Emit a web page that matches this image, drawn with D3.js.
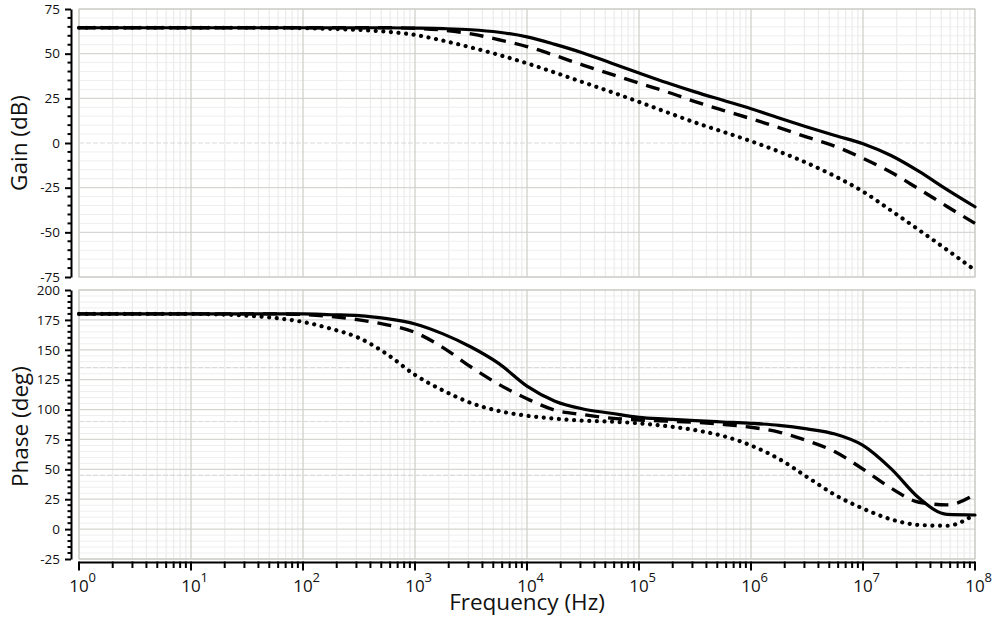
<!DOCTYPE html>
<html>
<head>
<meta charset="utf-8">
<script src="https://cdn.jsdelivr.net/npm/d3@7"></script>
<style>
  body { margin: 0; background: #fff; }
  svg { display: block; font-family: "Open Sans", "DejaVu Sans", sans-serif; }
</style>
</head>
<body>
<svg id="chart" width="993" height="618"></svg>
<script>
// Frequency grid as decimal exponents (Hz = 10^exp)
const freqExp = [0, 0.25, 0.5, 0.75, 1, 1.25, 1.5, 1.75, 2, 2.25, 2.5, 2.75, 3, 3.25, 3.5, 3.75,
                 4, 4.25, 4.5, 4.75, 5, 5.25, 5.5, 5.75, 6, 6.25, 6.5, 6.75, 7, 7.25, 7.5, 7.75, 8];

// Gain (dB)
const gainSolid  = [64.5, 64.5, 64.5, 64.5, 64.5, 64.5, 64.5, 64.5, 64.5, 64.5, 64.5, 64.5, 64.3, 64.0, 63.4, 62.0,
                    59.4, 55.2, 50.4, 44.8, 39.2, 33.7, 28.6, 23.9, 19.2, 14.0, 9.0, 4.2, -0.4, -7.0, -15.9, -26.1, -35.7];
const gainDashed = [64.5, 64.5, 64.5, 64.5, 64.5, 64.5, 64.5, 64.5, 64.5, 64.5, 64.5, 64.5, 64.2, 63.2, 61.1, 57.8,
                    54.0, 49.0, 43.6, 38.6, 33.5, 28.6, 23.2, 18.3, 13.6, 8.6, 3.3, -1.8, -8.6, -16.4, -25.8, -35.5, -45.0];
const gainDotted = [64.5, 64.5, 64.5, 64.5, 64.5, 64.5, 64.5, 64.5, 64.3, 63.9, 63.3, 62.3, 60.5, 57.3, 53.5, 49.3,
                    44.6, 39.4, 34.0, 28.6, 23.0, 17.2, 11.5, 6.3, 1.0, -4.8, -11.2, -18.6, -27.2, -37.8, -48.7, -59.8, -71.2];

// Phase (deg)
const phaseSolid  = [180, 180, 180, 180, 180, 180, 180, 180, 180, 179.3, 178.6, 176.0, 171.6, 163.3, 152.3, 138.4,
                     119.6, 107.0, 100.5, 96.9, 93.4, 92.0, 90.7, 89.6, 88.5, 86.8, 83.8, 79.5, 70.0, 50.6, 26.0, 12.3, 11.8];
const phaseDashed = [180, 180, 180, 180, 180, 180, 180, 180, 179.5, 177.8, 175.0, 170.9, 164.5, 151.8, 135.6, 121.0,
                     109.0, 99.5, 95.8, 92.8, 91.3, 90.3, 89.3, 87.6, 85.2, 81.2, 74.0, 64.7, 50.2, 34.3, 22.5, 20.3, 29.1];
const phaseDotted = [180, 180, 180, 180, 180, 179.6, 178.6, 176.6, 173.3, 167.6, 159.9, 146.3, 129.0, 116.0, 105.5, 98.8,
                     94.8, 92.4, 90.7, 89.9, 88.5, 86.1, 82.8, 77.9, 70.0, 58.7, 43.6, 28.6, 17.2, 8.2, 3.5, 2.8, 12.4];

// Axis ticks
const gainTicks  = [-75, -50, -25, 0, 25, 50, 75];
const phaseTicks = [-25, 0, 25, 50, 75, 100, 125, 150, 175, 200];
const decadeExps = [0, 1, 2, 3, 4, 5, 6, 7, 8];

const svg = d3.select("#chart");
const plotL = 79, plotR = 975;

const x = d3.scaleLog().domain([1, 1e8]).range([plotL, plotR]);
const yG = d3.scaleLinear().domain([-75, 75]).range([277, 9]);
const yP = d3.scaleLinear().domain([-25, 200]).range([559, 290]);

const freqs = freqExp.map(e => Math.pow(10, e));
const minorFreqs = [];
for (let d = 0; d < 8; d++) for (let m = 2; m <= 9; m++) minorFreqs.push(m * Math.pow(10, d));
const decadeFreqs = decadeExps.map(e => Math.pow(10, e));

function panel(yScale, majorTicks, dashedRefs, series) {
  const g = svg.append("g");
  const [y0, y1] = yScale.domain();
  const top = yScale(y1), bot = yScale(y0);

  g.append("rect").attr("x", plotL).attr("y", top).attr("width", plotR - plotL).attr("height", bot - top)
    .attr("fill", "#fff");

  // minor grid
  const minorY = d3.range(y0, y1 + 0.001, 5).filter(v => !majorTicks.includes(v));
  g.selectAll(null).data(minorY).join("line")
    .attr("x1", plotL).attr("x2", plotR).attr("y1", d => yScale(d)).attr("y2", d => yScale(d))
    .attr("stroke", "#eeeeee").attr("stroke-width", 1);
  g.selectAll(null).data(minorFreqs).join("line")
    .attr("x1", d => x(d)).attr("x2", d => x(d)).attr("y1", top).attr("y2", bot)
    .attr("stroke", "#ebebeb").attr("stroke-width", 1.2);

  // major grid
  g.selectAll(null).data(majorTicks.filter(v => !dashedRefs.includes(v))).join("line")
    .attr("x1", plotL).attr("x2", plotR).attr("y1", d => yScale(d)).attr("y2", d => yScale(d))
    .attr("stroke", "#d6d6d2").attr("stroke-width", 1.3);
  g.selectAll(null).data(decadeFreqs).join("line")
    .attr("x1", d => x(d)).attr("x2", d => x(d)).attr("y1", top).attr("y2", bot)
    .attr("stroke", "#cfcfcb").attr("stroke-width", 1.3);

  // reference lines
  g.selectAll(null).data(dashedRefs).join("line")
    .attr("x1", plotL).attr("x2", plotR).attr("y1", d => yScale(d)).attr("y2", d => yScale(d))
    .attr("stroke", "#dadada").attr("stroke-width", 1.2).attr("stroke-dasharray", "5,2");

  g.append("rect").attr("x", plotL).attr("y", top).attr("width", plotR - plotL).attr("height", bot - top)
    .attr("fill", "none").attr("stroke", "#cfcfcb").attr("stroke-width", 1.2);

  // curves
  const line = d3.line().x((d, i) => x(freqs[i])).y(d => yScale(d)).curve(d3.curveMonotoneX);
  const styles = [
    { w: 4.2, dash: "0.01,7.6", cap: "round" },
    { w: 3.4, dash: "14,9", cap: "butt" },
    { w: 3.2, dash: null, cap: "round" }
  ];
  series.forEach((vals, k) => {
    const s = styles[k];
    g.append("path").attr("d", line(vals)).attr("fill", "none").attr("stroke", "#000")
      .attr("stroke-width", s.w).attr("stroke-linecap", s.cap).attr("stroke-linejoin", "round")
      .attr("stroke-dasharray", s.dash);
  });

  // left axis
  const axisX = 71;
  const ax = svg.append("g").attr("transform", `translate(${axisX},0)`);
  ax.call(d3.axisLeft(yScale).tickValues(majorTicks).tickSize(6).tickSizeOuter(0).tickPadding(5)
    .tickFormat(d => String(d)));
  ax.select(".domain").attr("stroke-width", 2);
  ax.selectAll(".tick line").attr("stroke-width", 2);
  ax.selectAll(".tick text").attr("font-size", 13.5).attr("font-family", "Open Sans").attr("fill", "#111");
  const minorTickVals = d3.range(y0, y1 + 0.001, 5).filter(v => !majorTicks.includes(v));
  ax.selectAll(".minor").data(minorTickVals).join("line").attr("class", "minor")
    .attr("x1", -3.5).attr("x2", 0).attr("y1", d => yScale(d)).attr("y2", d => yScale(d))
    .attr("stroke", "#000").attr("stroke-width", 2);
}

panel(yG, gainTicks, [0], [gainDotted, gainDashed, gainSolid]);
panel(yP, phaseTicks, [45, 90, 135], [phaseDotted, phaseDashed, phaseSolid]);

// frequency axis
const axisY = 562.5;
const bx = svg.append("g").attr("transform", `translate(0,${axisY})`);
bx.append("line").attr("x1", plotL).attr("x2", plotR).attr("stroke", "#000").attr("stroke-width", 2);
bx.selectAll(".maj").data(decadeFreqs).join("line").attr("class", "maj")
  .attr("x1", d => x(d)).attr("x2", d => x(d)).attr("y1", -1).attr("y2", 8)
  .attr("stroke", "#000").attr("stroke-width", 2);
bx.selectAll(".min").data(minorFreqs).join("line").attr("class", "min")
  .attr("x1", d => x(d)).attr("x2", d => x(d)).attr("y1", -1).attr("y2", 5.5)
  .attr("stroke", "#000").attr("stroke-width", 2);

decadeExps.forEach(e => {
  const cx = x(Math.pow(10, e));
  bx.append("text").attr("x", cx).attr("y", 29).attr("text-anchor", "middle")
    .attr("font-size", 17).attr("fill", "#111").text("10");
  bx.append("text").attr("x", cx + 9.5).attr("y", 19).attr("text-anchor", "start")
    .attr("font-size", 13).attr("fill", "#111").text(String(e));
});

// axis titles
svg.append("text").attr("x", (plotL + plotR) / 2).attr("y", 610).attr("text-anchor", "middle")
  .attr("font-size", 22.5).attr("fill", "#111").text("Frequency (Hz)");
svg.append("text").attr("transform", `translate(27,${yG(0)}) rotate(-90)`).attr("text-anchor", "middle")
  .attr("font-size", 22.5).attr("fill", "#111").text("Gain (dB)");
svg.append("text").attr("transform", `translate(28,${(yP(200) + yP(-25)) / 2 + 2}) rotate(-90)`).attr("text-anchor", "middle")
  .attr("font-size", 22.5).attr("fill", "#111").text("Phase (deg)");
</script>
</body>
</html>
